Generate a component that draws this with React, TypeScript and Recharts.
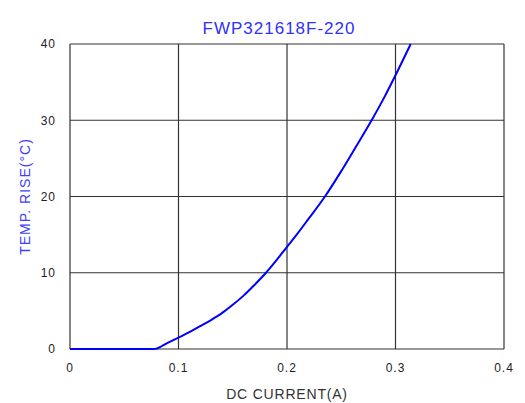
import { CartesianGrid, Label, Line, LineChart, XAxis, YAxis } from "recharts";

const currentA = [0, 0.078, 0.085, 0.09, 0.1, 0.11, 0.12, 0.13, 0.14, 0.15, 0.16, 0.17, 0.18, 0.19, 0.2, 0.21, 0.22, 0.235, 0.249, 0.263, 0.278, 0.29, 0.3, 0.314];
const tempRise = [0, 0, 0.4, 0.8, 1.5, 2.2, 3.0, 3.8, 4.7, 5.8, 7.0, 8.4, 9.9, 11.6, 13.4, 15.2, 17.1, 20, 23.1, 26.4, 30, 33.1, 35.9, 40];
const xTicks = [0, 0.1, 0.2, 0.3, 0.4];
const yTicks = [0, 10, 20, 30, 40];

const data = currentA.map((x, i) => ({ x, y: tempRise[i] }));

const font = "Liberation Sans, Arial, sans-serif";

const tickStyle = {
  fontFamily: font,
  fontSize: 12,
  fill: "#222",
  letterSpacing: 1,
};

export default function App() {
  return (
    <div style={{ position: "absolute", left: 0, top: 0, width: 525, height: 403, background: "#fff" }}>
      <div
        style={{
          position: "absolute",
          left: 0,
          width: 558,
          top: 19,
          textAlign: "center",
          fontFamily: font,
          fontSize: 17,
          letterSpacing: 1,
          color: "#3030ff",
        }}
      >
        FWP321618F-220
      </div>
      <LineChart
        width={525}
        height={403}
        data={data}
        margin={{ top: 44, right: 21, bottom: 24, left: 0 }}
      >
        <CartesianGrid stroke="#333" strokeWidth={1.2} />
        <XAxis
          dataKey="x"
          type="number"
          domain={[0, 0.4]}
          ticks={xTicks}
          height={30}
          axisLine={false}
          tickLine={false}
          tick={tickStyle}
          tickMargin={8}
        >
          <Label
            value="DC CURRENT(A)"
            position="bottom"
            offset={10}
            style={{ fontFamily: font, fontSize: 14, letterSpacing: 0.8, fill: "#333" }}
          />
        </XAxis>
        <YAxis
          type="number"
          domain={[0, 40]}
          ticks={yTicks}
          width={70}
          axisLine={false}
          tickLine={false}
          tick={tickStyle}
          tickMargin={8}
        >
          <Label
            value="TEMP. RISE(°C)"
            angle={-90}
            position="insideLeft"
            offset={25}
            style={{
              fontFamily: font,
              fontSize: 14,
              letterSpacing: 1,
              fill: "#4040ff",
              textAnchor: "middle",
            }}
          />
        </YAxis>
        <Line
          type="monotone"
          dataKey="y"
          stroke="#0000ff"
          strokeWidth={2}
          dot={false}
          isAnimationActive={false}
        />
      </LineChart>
    </div>
  );
}
